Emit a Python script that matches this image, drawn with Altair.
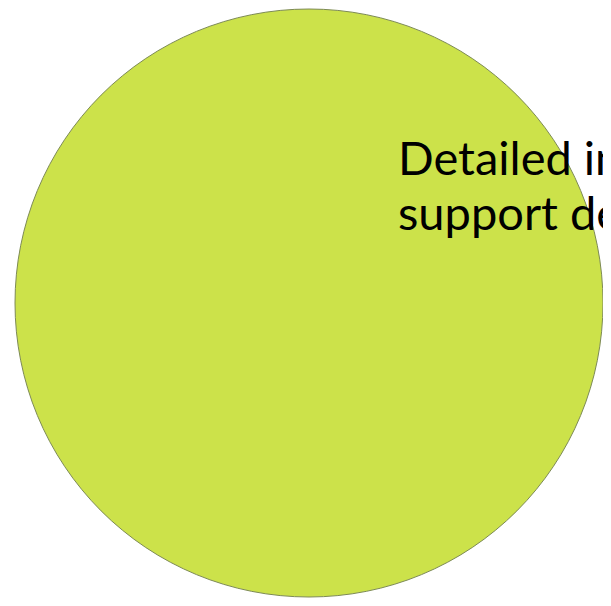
import altair as alt
import pandas as pd

categories = ["Detailed information"]
values = [1]
label_lines = ["Detailed information to", "support decisions"]

arc_df = pd.DataFrame({"category": categories, "value": values})
text_df = pd.DataFrame({"label": ["\n".join(label_lines)]})

circle = alt.Chart(arc_df).mark_arc(
    outerRadius=294, fill="#CCE24A", stroke="#7d8a55", strokeWidth=1
).encode(
    theta=alt.Theta("value:Q", stack=True),
    x=alt.value(301),
    y=alt.value(295),
)

label = alt.Chart(text_df).mark_text(
    align="left", baseline="alphabetic", font="Lato", fontSize=47,
    color="#000000", lineBreak="\n", lineHeight=55
).encode(
    text="label:N",
    x=alt.value(390),
    y=alt.value(167),
)

chart = alt.layer(circle, label).properties(
    width=595, height=590, padding=0, autosize=alt.AutoSizeParams(type="none")
).configure_view(stroke=None)

chart.save("out.html", embed_options={"renderer": "svg", "actions": False})
